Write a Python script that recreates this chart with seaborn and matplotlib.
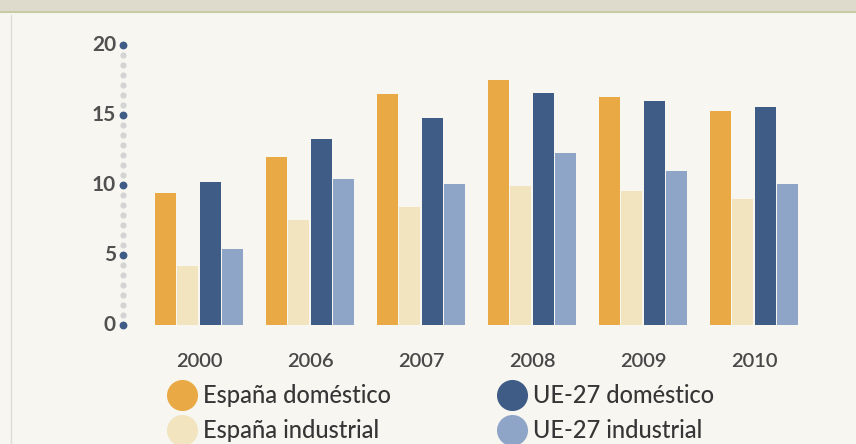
import matplotlib
matplotlib.use("Agg")
import matplotlib.pyplot as plt
import numpy as np
import pandas as pd
import seaborn as sns

years = ["2000", "2006", "2007", "2008", "2009", "2010"]
series = ["España doméstico", "España industrial", "UE-27 doméstico", "UE-27 industrial"]
espana_domestico = [9.4, 12.0, 16.5, 17.5, 16.3, 15.3]
espana_industrial = [4.2, 7.5, 8.4, 9.9, 9.6, 9.0]
ue27_domestico = [10.2, 13.3, 14.8, 16.6, 16.0, 15.6]
ue27_industrial = [5.4, 10.4, 10.1, 12.3, 11.0, 10.1]
yticks = [0, 5, 10, 15, 20]

colors = ["#E9AA45", "#F1E4BE", "#3F5C86", "#8FA5C8"]

df = pd.DataFrame({
    "year": years * 4,
    "serie": np.repeat(series, len(years)),
    "valor": espana_domestico + espana_industrial + ue27_domestico + ue27_industrial,
})

sns.set_theme(style="white")
plt.rcParams["font.family"] = ["Lato", "DejaVu Sans"]

W, H = 856, 444
bg = "#F7F6F1"
fig = plt.figure(figsize=(W / 100, H / 100), dpi=100, facecolor=bg)

# main plotting area (pixel geometry converted to figure fractions)
left_px, right_px = 143.5, 809.5
top_px, bot_px = 45, 325
ax = fig.add_axes([left_px / W, 1 - bot_px / H, (right_px - left_px) / W, (bot_px - top_px) / H])
ax.set_facecolor("none")

sns.barplot(data=df, x="year", y="valor", hue="serie", hue_order=series,
            palette=colors, width=0.8, gap=0.06, ax=ax, legend=False,
            saturation=1, linewidth=0)

ax.set_xlim(-0.5, len(years) - 0.5)
ax.set_ylim(0, 20)
for s in ax.spines.values():
    s.set_visible(False)
ax.set_xlabel("")
ax.set_ylabel("")
ax.set_yticks([])
ax.tick_params(axis="x", length=0, pad=20, labelsize=14.5, labelcolor="#484848")
for lab in ax.get_xticklabels():
    lab.set_fontweight("semibold")

# dotted vertical scale: small grey dots with blue dots at each tick
ytr = ax.get_yaxis_transform()
xdot = (123 - left_px) / (right_px - left_px)
minor = np.arange(0, 20.001, 5 / 7)
ax.scatter([xdot] * len(minor), minor, s=20, color="#D4D4D4", transform=ytr,
           clip_on=False, zorder=3, linewidths=0)
ax.scatter([xdot] * len(yticks), yticks, s=32, color="#3F5C86", transform=ytr,
           clip_on=False, zorder=4, linewidths=0)
xlab = (116 - left_px) / (right_px - left_px)
for v in yticks:
    ax.text(xlab, v, str(v), transform=ytr, ha="right", va="center",
            fontsize=15, fontweight="bold", color="#505050")

# overlay in pixel coordinates for the frame and the legend
ov = fig.add_axes([0, 0, 1, 1], zorder=-1)
ov.set_xlim(0, W)
ov.set_ylim(H, 0)
ov.axis("off")
ov.add_patch(plt.Rectangle((0, 0), W, 11, color="#DEDBCD", lw=0))
ov.plot([0, W], [12, 12], color="#C8CCA6", lw=1.5)
ov.plot([11, 11], [15, H], color="#DDDDD6", lw=1)

lg = fig.add_axes([0, 0, 1, 1], zorder=5)
lg.set_xlim(0, W)
lg.set_ylim(H, 0)
lg.axis("off")
legend_pos = [(182, 395), (182, 430), (512, 395), (512, 430)]
for (cx, cy), name, c in zip(legend_pos, series, colors):
    lg.scatter([cx], [cy], s=500, color=c, linewidths=0, clip_on=False)
    lg.text(cx + 21, cy, name, ha="left", va="center", fontsize=17,
            fontweight="medium", color="#363636")

fig.savefig("out.png", dpi=100, facecolor=bg)
